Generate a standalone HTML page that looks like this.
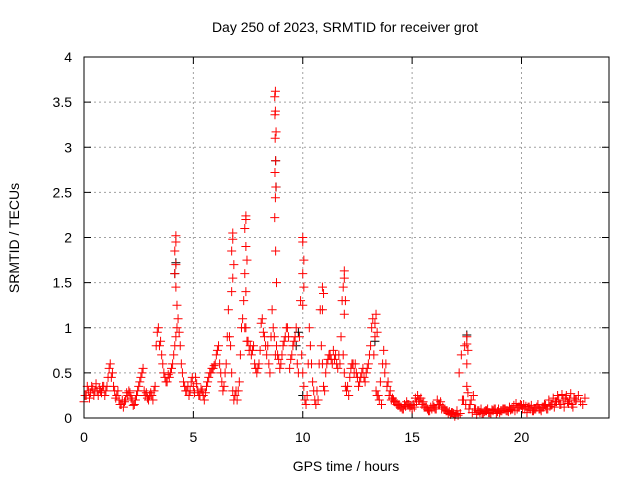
<!DOCTYPE html>
<html><head><meta charset="utf-8"><style>
body{margin:0;background:#fff}
svg{display:block;font-family:"Liberation Sans",sans-serif}
</style></head><body>
<svg id="chart" width="640" height="480" xmlns="http://www.w3.org/2000/svg">
<text x="345" y="32" text-anchor="middle" font-size="14">Day 250 of 2023, SRMTID for receiver grot</text>
<text x="346" y="471" text-anchor="middle" font-size="14">GPS time / hours</text>
<text x="19" y="238" text-anchor="middle" font-size="14" transform="rotate(-90 19 238)">SRMTID / TECUs</text>
<g id="grid"></g><g id="ticks"></g><g id="marks"></g>
<rect x="84" y="57" width="525" height="361" fill="none" stroke="#000" stroke-width="1"/>
</svg>
<script>
const xTicks=[0,5,10,15,20];
const yTicks=[0,0.5,1,1.5,2,2.5,3,3.5,4];
const yTickLabels=["0","0.5","1","1.5","2","2.5","3","3.5","4"];
const t0=0, dt=0.1;
const values=[0.18,0.25,0.3,0.28,0.32,0.3,0.3,0.33,0.28,0.35,0.3,0.45,0.6,0.5,0.3,0.25,0.2,0.15,0.12,0.2,0.25,0.28,0.2,0.15,0.25,0.35,0.45,0.55,0.25,0.22,0.25,0.25,0.3,0.8,1.0,0.85,0.6,0.45,0.4,0.45,0.55,0.7,0.9,1.1,0.8,0.5,0.35,0.3,0.25,0.4,0.35,0.45,0.3,0.25,0.3,0.2,0.35,0.45,0.5,0.55,0.6,0.75,0.6,0.4,0.35,0.6,1.2,0.8,0.3,0.25,0.2,0.4,1.0,1.3,1.0,0.85,0.8,0.75,0.6,0.5,0.6,1.05,0.95,0.8,0.8,0.5,1.2,0.9,0.8,0.65,0.6,0.8,0.9,1.0,0.55,0.7,0.85,1.0,0.5,1.3,0.5,0.2,0.25,1.0,0.6,0.3,0.15,0.2,1.2,0.6,0.3,0.6,0.7,0.65,0.75,0.7,0.55,0.6,1.3,0.5,0.3,0.25,0.55,0.6,0.6,0.45,0.4,0.5,0.45,0.5,0.6,0.8,1.1,0.9,0.25,0.2,0.15,0.75,0.6,0.4,0.3,0.22,0.18,0.15,0.15,0.12,0.1,0.13,0.15,0.12,0.1,0.12,0.18,0.2,0.22,0.18,0.12,0.1,0.08,0.1,0.12,0.1,0.15,0.18,0.12,0.1,0.08,0.07,0.06,0.05,0.04,0.03,0.05,0.2,0.8,0.35,0.1,0.2,0.25,0.1,0.08,0.06,0.05,0.07,0.08,0.06,0.05,0.08,0.1,0.07,0.06,0.08,0.1,0.08,0.07,0.09,0.1,0.08,0.1,0.12,0.14,0.15,0.13,0.12,0.1,0.08,0.1,0.12,0.1,0.08,0.12,0.14,0.1,0.13,0.15,0.12,0.18,0.2,0.15,0.2,0.22,0.18,0.2,0.15,0.22,0.2,0.25,0.18,0.15,0.22];
const values2=[0.25,0.35,0.22,0.35,0.25,0.38,0.25,0.3,0.35,0.25,0.35,0.55,0.45,0.35,0.22,0.3,0.15,0.2,0.18,0.28,0.3,0.22,0.14,0.2,0.3,0.4,0.5,0.3,0.28,0.2,0.28,0.2,0.35,0.95,0.8,0.7,0.5,0.4,0.48,0.5,0.6,0.8,1.0,0.95,0.6,0.4,0.3,0.35,0.3,0.45,0.28,0.38,0.25,0.32,0.25,0.28,0.4,0.5,0.55,0.58,0.7,0.8,0.5,0.3,0.5,0.9,0.9,0.5,0.2,0.3,0.3,0.7,1.1,1.0,0.85,0.75,0.7,0.8,0.55,0.55,0.75,1.1,0.9,0.7,0.6,0.9,1.0,0.7,0.7,0.55,0.7,0.85,1.0,0.9,0.65,0.8,0.9,0.6,0.9,0.7,0.35,0.15,0.6,0.8,0.4,0.2,0.3,0.6,0.8,0.35,0.5,0.65,0.7,0.6,0.65,0.6,0.7,0.9,0.7,0.35,0.35,0.45,0.6,0.5,0.5,0.35,0.45,0.55,0.4,0.55,0.7,1.0,0.7,0.3,0.25,0.4,0.6,0.5,0.35,0.25,0.2,0.2,0.18,0.14,0.12,0.1,0.15,0.18,0.15,0.14,0.15,0.22,0.25,0.2,0.15,0.12,0.12,0.08,0.12,0.14,0.1,0.2,0.15,0.1,0.1,0.08,0.05,0.04,0.06,0.02,0.08,0.5,0.7,0.2,0.15,0.28,0.15,0.06,0.1,0.04,0.08,0.1,0.05,0.08,0.1,0.06,0.09,0.1,0.05,0.1,0.08,0.1,0.1,0.08,0.12,0.1,0.14,0.16,0.12,0.15,0.1,0.1,0.06,0.12,0.14,0.08,0.1,0.15,0.1,0.12,0.15,0.1,0.2,0.15,0.22,0.18,0.25,0.15,0.26,0.12,0.25,0.16,0.27,0.12,0.2];
const spikeTimes=[4.2,4.2,4.15,4.2,4.15,4.2,4.25,6.8,6.8,6.75,6.85,6.8,6.75,7.4,7.4,7.35,7.4,7.45,7.35,7.4,8.75,8.72,8.75,8.73,8.78,8.74,8.76,8.73,8.77,8.75,8.72,8.76,8.8,10.0,10.0,10.05,10.0,10.05,10.0,10.9,10.95,10.9,11.9,11.9,11.85,11.95,11.9,13.35,13.3,13.4,17.5,17.5,17.55,17.5];
const spikeVals=[2.02,1.95,1.85,1.7,1.6,1.45,1.25,2.05,1.98,1.85,1.7,1.55,1.4,2.24,2.2,2.1,1.9,1.75,1.6,1.4,3.62,3.56,3.4,3.36,3.17,3.1,2.85,2.72,2.56,2.44,2.22,1.85,1.5,2.0,1.95,1.75,1.6,1.45,1.25,1.45,1.38,1.2,1.63,1.55,1.45,1.3,1.15,1.15,1.05,0.95,0.9,0.82,0.75,0.6];
const blackTimes=[4.15,4.2,8.76,8.78,10.0,17.5,9.7,9.8,13.3];
const blackVals=[1.6,1.72,2.85,2.56,0.25,0.92,0.8,0.95,0.85];
const X=v=>84+v*(525/24);
const Y=v=>418-v*(361/4);
const NS="http://www.w3.org/2000/svg";
function mk(tag,attrs,parent){const e=document.createElementNS(NS,tag);for(const k in attrs)e.setAttribute(k,attrs[k]);parent.appendChild(e);return e;}
const grid=document.getElementById('grid'),ticks=document.getElementById('ticks'),marks=document.getElementById('marks');
xTicks.forEach(t=>{const x=X(t);
 if(t>0){const g=mk('line',{x1:x,x2:x,y1:57,y2:418,stroke:'#a0a0a0','stroke-dasharray':'2,3'},grid);
 
 }
 mk('line',{x1:x,x2:x,y1:418,y2:411,stroke:'#000'},ticks);mk('line',{x1:x,x2:x,y1:57,y2:64,stroke:'#000'},ticks);
 const l=mk('text',{x:x,y:442,'text-anchor':'middle','font-size':'14'},ticks);l.textContent=t;
 
 });
yTicks.forEach((t,i)=>{const y=Y(t);
 if(t>0&&t<4){const g=mk('line',{x1:84,x2:609,y1:y,y2:y,stroke:'#a0a0a0','stroke-dasharray':'2,3'},grid);
 
 }
 mk('line',{x1:84,x2:91,y1:y,y2:y,stroke:'#000'},ticks);mk('line',{x1:602,x2:609,y1:y,y2:y,stroke:'#000'},ticks);
 const l=mk('text',{x:72,y:y+5,'text-anchor':'end','font-size':'14'},ticks);l.textContent=yTickLabels[i];
 
 });
function plus(t,v,c){const x=X(t),y=Y(v);
 const p=mk('path',{d:`M${x-4.5},${y}H${x+4.5}M${x},${y-4.5}V${y+4.5}`,stroke:c,'stroke-width':'1',fill:'none'},marks);
 
 }
blackTimes.forEach((t,i)=>plus(t,blackVals[i],'#000'));
values.forEach((v,i)=>plus(t0+i*dt,v,'#f00'));
values2.forEach((v,i)=>plus(t0+i*dt+0.05,v,'#f00'));
spikeTimes.forEach((t,i)=>plus(t,spikeVals[i],'#f00'));
</script>
</body></html>
